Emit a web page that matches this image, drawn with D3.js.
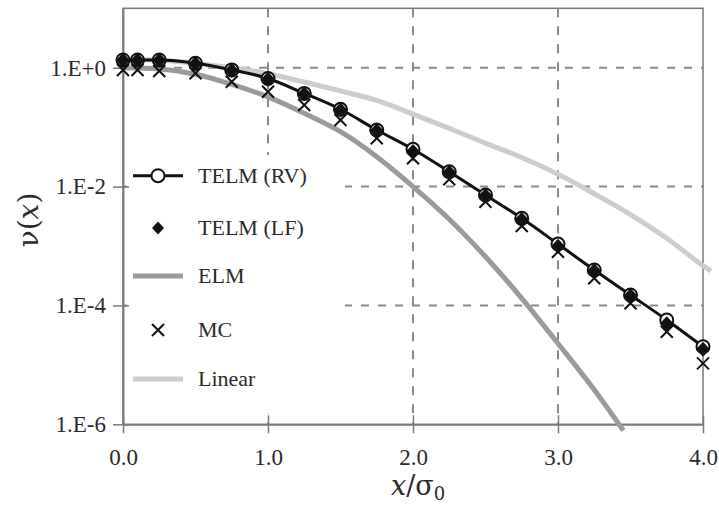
<!DOCTYPE html>
<html>
<head>
<meta charset="utf-8">
<script src="https://cdn.jsdelivr.net/npm/d3@7/dist/d3.min.js"></script>
<style>
  html, body { margin: 0; padding: 0; background: #fff; }
  svg { display: block; }
</style>
</head>
<body>
<svg id="chart" width="719" height="507"></svg>
<script>
// ---- Data ----
const xPoints = [0, 0.1, 0.25, 0.5, 0.75, 1.0, 1.25, 1.5, 1.75, 2.0, 2.25, 2.5, 2.75, 3.0, 3.25, 3.5, 3.75, 4.0];
const telmRV = [1.35, 1.35, 1.35, 1.19, 0.92, 0.66, 0.37, 0.20, 0.0895, 0.0424, 0.0178, 0.00722, 0.00292, 0.00108, 3.95e-4, 1.50e-4, 5.69e-5, 2.02e-5];
const telmLF = [1.33, 1.33, 1.33, 1.17, 0.90, 0.64, 0.36, 0.195, 0.087, 0.039, 0.0172, 0.0070, 0.0028, 0.00099, 3.85e-4, 1.46e-4, 4.9e-5, 1.83e-5];
const mcValues = [0.916, 0.916, 0.88, 0.805, 0.582, 0.395, 0.236, 0.132, 0.065, 0.0299, 0.01327, 0.00557, 0.00217, 8.0e-4, 2.86e-4, 1.09e-4, 3.61e-5, 1.06e-5];

const elmX = [0, 0.25, 0.5, 0.75, 1.0, 1.25, 1.5, 1.75, 2.0, 2.25, 2.5, 2.75, 3.0, 3.25, 3.45];
const elmValues = [1.0, 0.955, 0.776, 0.525, 0.324, 0.171, 0.0838, 0.0318, 0.0100, 0.00282, 6.6e-4, 1.32e-4, 2.29e-5, 3.8e-6, 7.9e-7];

const linearX = [0, 0.25, 0.5, 0.75, 1.0, 1.25, 1.5, 1.75, 2.0, 2.25, 2.5, 2.75, 3.0, 3.25, 3.5, 3.75, 4.0, 4.055];
const linearValues = [1.38, 1.35, 1.175, 1.0, 0.794, 0.575, 0.407, 0.282, 0.166, 0.0955, 0.0537, 0.0309, 0.0162, 0.00759, 0.00339, 0.00135, 4.68e-4, 3.8e-4];

const xTickValues = [0, 1, 2, 3, 4];
const xTickLabels = ["0.0", "1.0", "2.0", "3.0", "4.0"];
const yTickValues = [1, 1e-2, 1e-4, 1e-6];
const yTickLabels = ["1.E+0", "1.E-2", "1.E-4", "1.E-6"];
const xGridValues = [1, 2, 3];
const yGridValues = [1, 1e-2, 1e-4];

const legendLabels = ["TELM (RV)", "TELM (LF)", "ELM", "MC", "Linear"];

// ---- Layout ----
const L = 123, R = 703, T = 8.3, B = 424.3;
const svg = d3.select("#chart");
const x = d3.scaleLinear().domain([0, 4]).range([L, R]);
const y = d3.scaleLog().domain([1e-6, 10]).range([B, T]);

const axisColor = "#7a7a7a";
const gridColor = "#8a8a8a";
const textColor = "#2a2a2a";
const serif = "'Liberation Serif', 'Times New Roman', serif";

// grid
const grid = svg.append("g");
grid.selectAll("line.h").data(yGridValues).enter().append("line")
  .attr("x1", L).attr("x2", R)
  .attr("y1", d => y(d)).attr("y2", d => y(d))
  .attr("stroke", gridColor).attr("stroke-width", 2).attr("stroke-dasharray", "8,9");
grid.selectAll("line.v").data(xGridValues).enter().append("line")
  .attr("y1", T).attr("y2", B)
  .attr("x1", d => x(d)).attr("x2", d => x(d))
  .attr("stroke", gridColor).attr("stroke-width", 2).attr("stroke-dasharray", "9,9");

// legend background (covers grid)
svg.append("rect").attr("x", 127).attr("y", 155).attr("width", 218).attr("height", 258).attr("fill", "#fff");

// frame
svg.append("rect").attr("x", L).attr("y", T).attr("width", R - L).attr("height", B - T)
  .attr("fill", "none").attr("stroke", axisColor).attr("stroke-width", 1.5);

// axes
const yAxis = d3.axisLeft(y).tickValues(yTickValues)
  .tickFormat((d, i) => yTickLabels[i]).tickSizeInner(10).tickSizeOuter(0).tickPadding(7);
const gy = svg.append("g").attr("transform", `translate(${L},0)`).call(yAxis);
const yAxisIn = d3.axisRight(y).tickValues(yTickValues).tickFormat("").tickSizeInner(6).tickSizeOuter(0);
const gyi = svg.append("g").attr("transform", `translate(${L},0)`).call(yAxisIn);

const xAxis = d3.axisBottom(x).tickValues(xTickValues)
  .tickFormat((d, i) => xTickLabels[i]).tickSizeInner(9).tickSizeOuter(0).tickPadding(15);
const gx = svg.append("g").attr("transform", `translate(0,${B})`).call(xAxis);
const xAxisIn = d3.axisTop(x).tickValues(xTickValues).tickFormat("").tickSizeInner(9).tickSizeOuter(0);
const gxi = svg.append("g").attr("transform", `translate(0,${B})`).call(xAxisIn);

[gy, gyi, gx, gxi].forEach(g => {
  g.select(".domain").attr("stroke", axisColor).attr("stroke-width", 1.5);
  g.selectAll(".tick line").attr("stroke", axisColor).attr("stroke-width", 1.5);
  g.selectAll(".tick text").attr("fill", textColor)
    .style("font-family", serif).style("font-size", "23px");
});

// series
const pts = (xs, vs) => xs.map((d, i) => [d, vs[i]]);
const line = d3.line().x(d => x(d[0])).y(d => y(d[1])).curve(d3.curveMonotoneX);

svg.append("path").datum(pts(linearX, linearValues)).attr("d", line)
  .attr("fill", "none").attr("stroke", "#cdcdcd").attr("stroke-width", 5);
svg.append("path").datum(pts(elmX, elmValues)).attr("d", line)
  .attr("fill", "none").attr("stroke", "#9b9b9b").attr("stroke-width", 5);

const crossPath = "M-6,-6L6,6M-6,6L6,-6";
svg.append("g").selectAll("path").data(pts(xPoints, mcValues)).enter().append("path")
  .attr("transform", d => `translate(${x(d[0])},${y(d[1])})`)
  .attr("d", crossPath).attr("stroke", "#111").attr("stroke-width", 2).attr("fill", "none");

svg.append("path").datum(pts(xPoints, telmRV)).attr("d", line)
  .attr("fill", "none").attr("stroke", "#111").attr("stroke-width", 3);

svg.append("g").selectAll("circle").data(pts(xPoints, telmRV)).enter().append("circle")
  .attr("cx", d => x(d[0])).attr("cy", d => y(d[1])).attr("r", 6.5)
  .attr("fill", "#fff").attr("stroke", "#111").attr("stroke-width", 2);

const diamondBig = "M0,-7.5L7,0L0,7.5L-7,0Z";
const diamondPath = "M0,-6.5L6,0L0,6.5L-6,0Z";
svg.append("g").selectAll("path").data(pts(xPoints, telmLF)).enter().append("path")
  .attr("transform", d => `translate(${x(d[0])},${y(d[1])})`)
  .attr("d", diamondBig).attr("fill", "#111");

// legend
const legRows = [175.7, 228, 276, 330, 379];
const lg = svg.append("g");
lg.append("line").attr("x1", 133).attr("x2", 183).attr("y1", legRows[0]).attr("y2", legRows[0])
  .attr("stroke", "#111").attr("stroke-width", 3);
lg.append("circle").attr("cx", 158).attr("cy", legRows[0]).attr("r", 6.5)
  .attr("fill", "#fff").attr("stroke", "#111").attr("stroke-width", 2);
lg.append("path").attr("transform", `translate(158,${legRows[1]})`).attr("d", diamondPath).attr("fill", "#111");
lg.append("line").attr("x1", 133).attr("x2", 183).attr("y1", legRows[2]).attr("y2", legRows[2])
  .attr("stroke", "#9b9b9b").attr("stroke-width", 5);
lg.append("path").attr("transform", `translate(158,${legRows[3]})`).attr("d", crossPath)
  .attr("stroke", "#111").attr("stroke-width", 2);
lg.append("line").attr("x1", 133).attr("x2", 183).attr("y1", legRows[4]).attr("y2", legRows[4])
  .attr("stroke", "#cdcdcd").attr("stroke-width", 5);
lg.selectAll("text").data(legendLabels).enter().append("text")
  .attr("x", 198).attr("y", (d, i) => legRows[i]).attr("dy", "0.33em")
  .attr("fill", textColor).style("font-family", serif).style("font-size", "22px")
  .text(d => d);

// axis titles
const yt = svg.append("text").attr("transform", "translate(38,220) rotate(-90)")
  .attr("text-anchor", "middle").attr("fill", textColor)
  .style("font-family", "'DejaVu Serif', serif").style("font-size", "28px");
yt.append("tspan").text("ν(");
yt.append("tspan").style("font-style", "italic").text("x");
yt.append("tspan").text(")");

const xt = svg.append("text").attr("x", 418).attr("y", 495).attr("text-anchor", "middle")
  .attr("fill", textColor).style("font-family", "'DejaVu Serif', serif").style("font-size", "27px");
xt.append("tspan").style("font-style", "italic").text("x");
xt.append("tspan").text("/σ");
xt.append("tspan").attr("dy", 5).style("font-size", "18px").text("0");
</script>
</body>
</html>
